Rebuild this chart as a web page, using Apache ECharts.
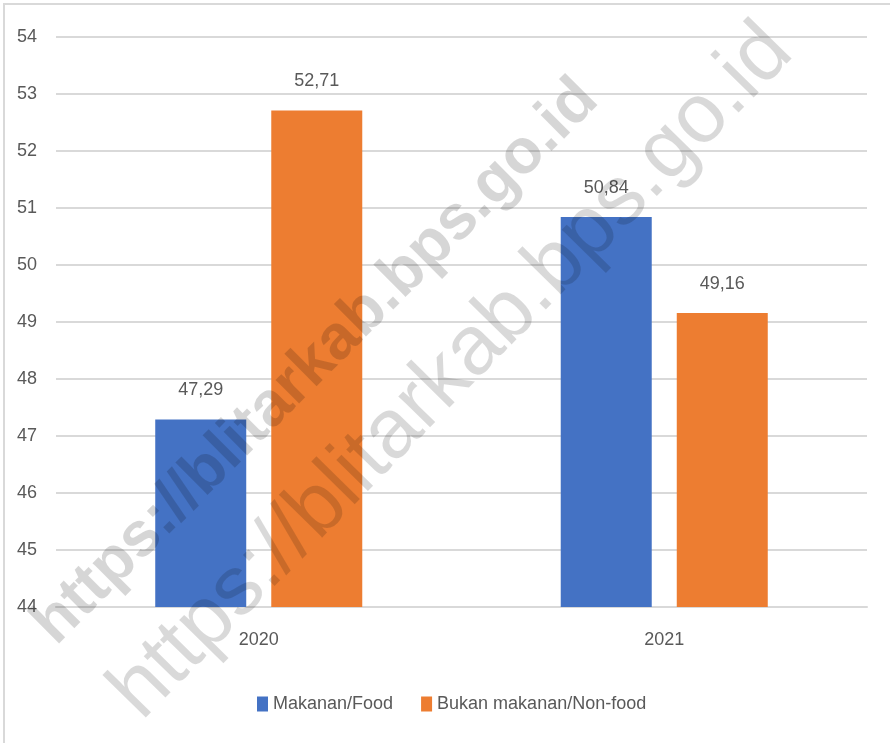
<!DOCTYPE html>
<html>
<head>
<meta charset="utf-8">
<script src="https://cdn.jsdelivr.net/npm/echarts@6/dist/echarts.min.js"></script>
<style>
  html, body { margin: 0; padding: 0; background: #fff; }
  #chart { width: 890px; height: 743px; }
</style>
</head>
<body>
<div id="chart"></div>
<script>
var years = ['2020', '2021'];
var food = [47.29, 50.84];
var nonFood = [52.71, 49.16];
var seriesNames = ['Makanan/Food', 'Bukan makanan/Non-food'];
var watermark = 'https://blitarkab.bps.go.id';

var font = "'Liberation Sans', sans-serif";
var textColor = '#595959';

var chart = echarts.init(document.getElementById('chart'));

function commaLabel(p) {
  return p.value.toFixed(2).replace('.', ',');
}

var option = {
  backgroundColor: '#fff',
  animation: false,
  grid: { left: 56, right: 23, top: 37, bottom: 136 },
  legend: {
    top: 690,
    left: 252,
    itemWidth: 11,
    itemHeight: 15,
    itemGap: 28,
    icon: 'rect',
    textStyle: { fontFamily: font, fontSize: 18, color: textColor },
    data: seriesNames
  },
  xAxis: {
    type: 'category',
    data: years,
    axisLine: { lineStyle: { color: '#d9d9d9', width: 2 } },
    axisTick: { show: false },
    axisLabel: { fontFamily: font, fontSize: 18, color: textColor, margin: 24 }
  },
  yAxis: {
    type: 'value',
    min: 44,
    max: 54,
    interval: 1,
    axisLine: { show: false },
    axisTick: { show: false },
    splitLine: { lineStyle: { color: '#d9d9d9', width: 2 } },
    axisLabel: { fontFamily: font, fontSize: 18, color: textColor, margin: 19 }
  },
  series: [
    {
      name: seriesNames[0],
      type: 'bar',
      data: food,
      barWidth: 91,
      barGap: '27.5%',
      itemStyle: { color: '#4472C4' },
      label: {
        show: true, position: 'top', distance: 20,
        fontFamily: font, fontSize: 18, color: textColor,
        formatter: commaLabel
      }
    },
    {
      name: seriesNames[1],
      type: 'bar',
      data: nonFood,
      barWidth: 91,
      itemStyle: { color: '#ED7D31' },
      label: {
        show: true, position: 'top', distance: 20,
        fontFamily: font, fontSize: 18, color: textColor,
        formatter: commaLabel
      }
    }
  ],
  graphic: [
    {
      type: 'rect',
      z: 100,
      silent: true,
      shape: { x: 4, y: 4, width: 890, height: 745 },
      style: { fill: 'none', stroke: '#d9d9d9', lineWidth: 2 }
    },
    {
      type: 'text',
      z: 100,
      silent: true,
      x: 316, y: 362,
      rotation: Math.PI / 4,
      style: {
        text: watermark,
        font: "bold 63px 'Liberation Sans', sans-serif",
        fill: 'rgba(0,0,0,0.16)',
        align: 'center',
        verticalAlign: 'middle'
      }
    },
    {
      type: 'text',
      z: 100,
      silent: true,
      x: 452, y: 372,
      rotation: Math.PI / 4 + 0.01,
      style: {
        text: watermark,
        font: "84px 'Liberation Sans', sans-serif",
        fill: 'rgba(0,0,0,0.15)',
        align: 'center',
        verticalAlign: 'middle'
      }
    }
  ]
};

chart.setOption(option);
</script>
</body>
</html>
